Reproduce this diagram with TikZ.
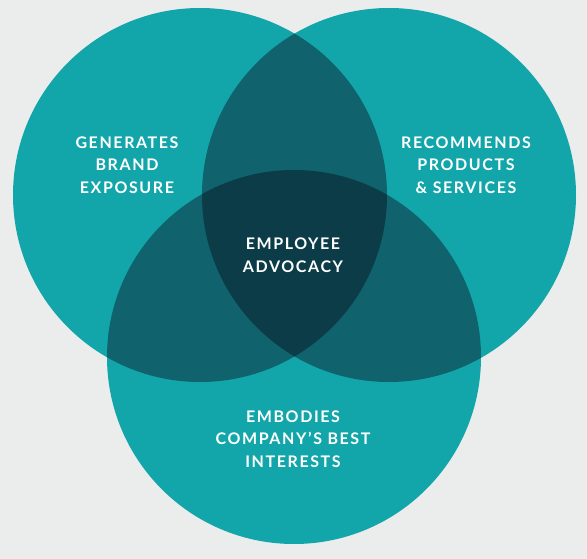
\documentclass[tikz,border=0pt]{standalone}
\usepackage{fontspec}
\newfontfamily\vennfont{Lato}[LetterSpace=10]
\usetikzlibrary{positioning}
\definecolor{bggray}{HTML}{EBECEC}
\definecolor{tealone}{HTML}{12A6AA}
\definecolor{tealtwo}{HTML}{10626C}
\definecolor{tealthree}{HTML}{0B3C48}

\begin{document}
\begin{tikzpicture}[x=1pt, y=-1pt,
    venntext/.style={text=white, align=center, inner sep=0pt,
      font=\vennfont\bfseries\fontsize{16}{22.5}\selectfont}]
    \fill[bggray] (0,0) rectangle (587,559);
    \useasboundingbox (0,0) rectangle (587,559);

    \coordinate (left) at (200,195);
    \coordinate (right) at (389,195);
    \coordinate (bottom) at (294,357);

    % base circles
    \fill[tealone] (left) circle (187pt);
    \fill[tealone] (right) circle (187pt);
    \fill[tealone] (bottom) circle (187pt);

    % pairwise overlaps
    \begin{scope}
      \clip (left) circle (187pt);
      \fill[tealtwo] (right) circle (187pt);
      \fill[tealtwo] (bottom) circle (187pt);
    \end{scope}
    \begin{scope}
      \clip (right) circle (187pt);
      \fill[tealtwo] (bottom) circle (187pt);
    \end{scope}

    % centre
    \begin{scope}
      \clip (left) circle (187pt);
      \clip (right) circle (187pt);
      \fill[tealthree] (bottom) circle (187pt);
    \end{scope}

    \node[venntext] (brand) at (127,165) {GENERATES\\BRAND\\EXPOSURE};
    \node[venntext] (recommends) at (466,165) {RECOMMENDS\\PRODUCTS\\\& SERVICES};
    \node[venntext] (advocacy) at (293,255) {EMPLOYEE\\ADVOCACY};
    \node[venntext] (interests) at (293,439) {EMBODIES\\COMPANY’S BEST\\INTERESTS};
  \end{tikzpicture}
\end{document}
